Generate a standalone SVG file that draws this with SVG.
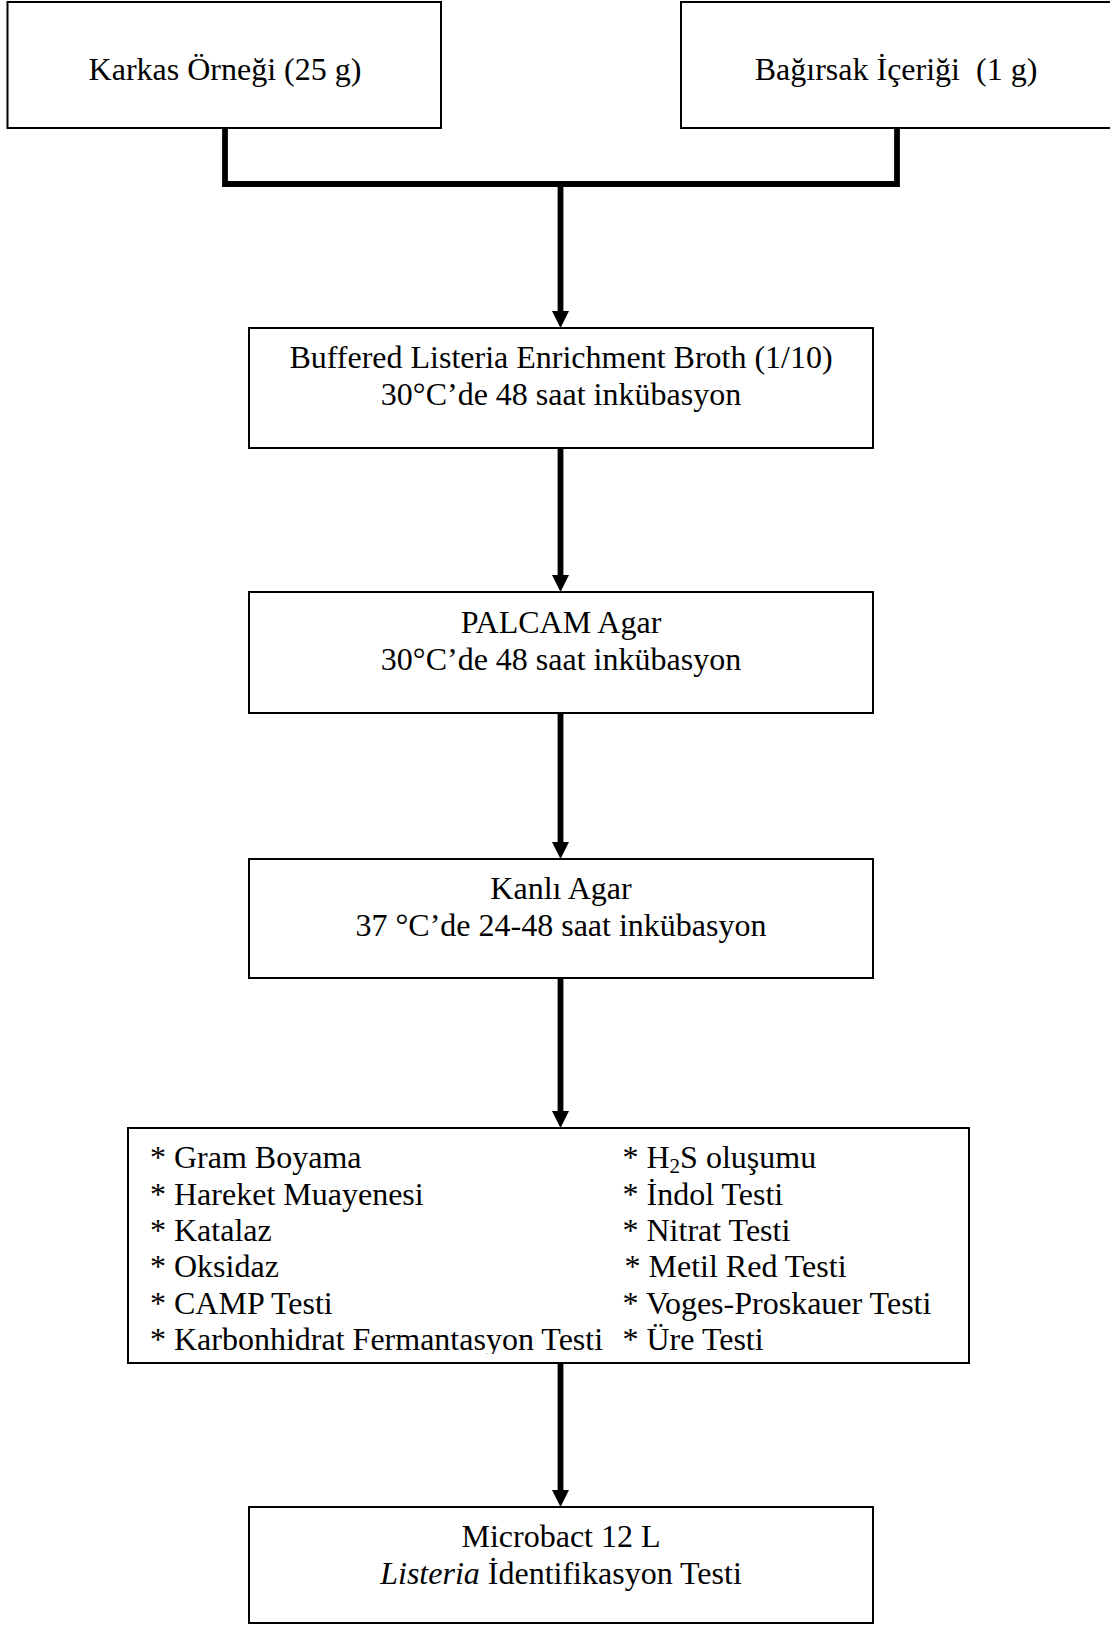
<svg xmlns="http://www.w3.org/2000/svg" width="1110" height="1627" viewBox="0 0 1110 1627">
<style>
  .box { fill: #ffffff; stroke: #000000; stroke-width: 2; }
  .t { font-family: "Liberation Serif", "Times New Roman", serif; font-size: 32px; fill: #000000; white-space: pre; }
  .c { text-anchor: middle; }
  .conn { fill: none; stroke: #000000; stroke-width: 5.8; stroke-linejoin: miter; stroke-linecap: butt; }
</style>
<defs>
  <marker id="arr" markerUnits="userSpaceOnUse" markerWidth="18" markerHeight="18" refX="0" refY="8.5" orient="auto" viewBox="0 0 18 17">
    <path d="M0,0 L17,8.5 L0,17 z" fill="#000000"/>
  </marker>
  <clipPath id="testsClip">
    <rect x="128" y="1128" width="841" height="226"/>
  </clipPath>
</defs>
<rect x="0" y="0" width="1110" height="1627" fill="#ffffff"/>

<g id="connectors">
  <polyline class="conn" points="225,128 225,184 897,184 897,128"/>
  <line class="conn" x1="560.5" y1="184" x2="560.5" y2="311" marker-end="url(#arr)"/>
  <line class="conn" x1="560.5" y1="448" x2="560.5" y2="575" marker-end="url(#arr)"/>
  <line class="conn" x1="560.5" y1="713" x2="560.5" y2="842" marker-end="url(#arr)"/>
  <line class="conn" x1="560.5" y1="978" x2="560.5" y2="1111" marker-end="url(#arr)"/>
  <line class="conn" x1="560.5" y1="1363" x2="560.5" y2="1490" marker-end="url(#arr)"/>
</g>

<g id="node-karkas">
  <rect class="box" x="7.5" y="2" width="433.5" height="126"/>
  <text class="t c" x="225" y="80">Karkas Örneği (25 g)</text>
</g>

<g id="node-bagirsak">
  <rect class="box" x="681" y="2" width="440" height="126"/>
  <text class="t c" x="896" y="80">Bağırsak İçeriği  (1 g)</text>
</g>

<g id="node-bleb">
  <rect class="box" x="249" y="328" width="624" height="120"/>
  <text class="t c" x="561" y="368">Buffered Listeria Enrichment Broth (1/10)</text>
  <text class="t c" x="561" y="404.5">30°C’de 48 saat inkübasyon</text>
</g>

<g id="node-palcam">
  <rect class="box" x="249" y="592" width="624" height="121"/>
  <text class="t c" x="561" y="633">PALCAM Agar</text>
  <text class="t c" x="561" y="669.5">30°C’de 48 saat inkübasyon</text>
</g>

<g id="node-kanli">
  <rect class="box" x="249" y="859" width="624" height="119"/>
  <text class="t c" x="561" y="899">Kanlı Agar</text>
  <text class="t c" x="561" y="935.5">37 °C’de 24-48 saat inkübasyon</text>
</g>

<g id="node-tests">
  <rect class="box" x="128" y="1128" width="841" height="235"/>
  <g clip-path="url(#testsClip)">
    <text class="t" x="150" y="1168">* Gram Boyama</text>
    <text class="t" x="150" y="1204.5">* Hareket Muayenesi</text>
    <text class="t" x="150" y="1241">* Katalaz</text>
    <text class="t" x="150" y="1277">* Oksidaz</text>
    <text class="t" x="150" y="1313.5">* CAMP Testi</text>
    <text class="t" x="150" y="1350">* Karbonhidrat Fermantasyon Testi</text>
    <text class="t" x="622.5" y="1168">* H<tspan font-size="21" dy="5">2</tspan><tspan dy="-5">S oluşumu</tspan></text>
    <text class="t" x="622.5" y="1204.5">* İndol Testi</text>
    <text class="t" x="622.5" y="1241">* Nitrat Testi</text>
    <text class="t" x="624.5" y="1277">* Metil Red Testi</text>
    <text class="t" x="622.5" y="1313.5">* Voges-Proskauer Testi</text>
    <text class="t" x="622.5" y="1350">* Üre Testi</text>
  </g>
</g>

<g id="node-microbact">
  <rect class="box" x="249" y="1507" width="624" height="116"/>
  <text class="t c" x="561" y="1547">Microbact 12 L</text>
  <text class="t c" x="561" y="1583.5"><tspan font-style="italic">Listeria</tspan> İdentifikasyon Testi</text>
</g>
</svg>
